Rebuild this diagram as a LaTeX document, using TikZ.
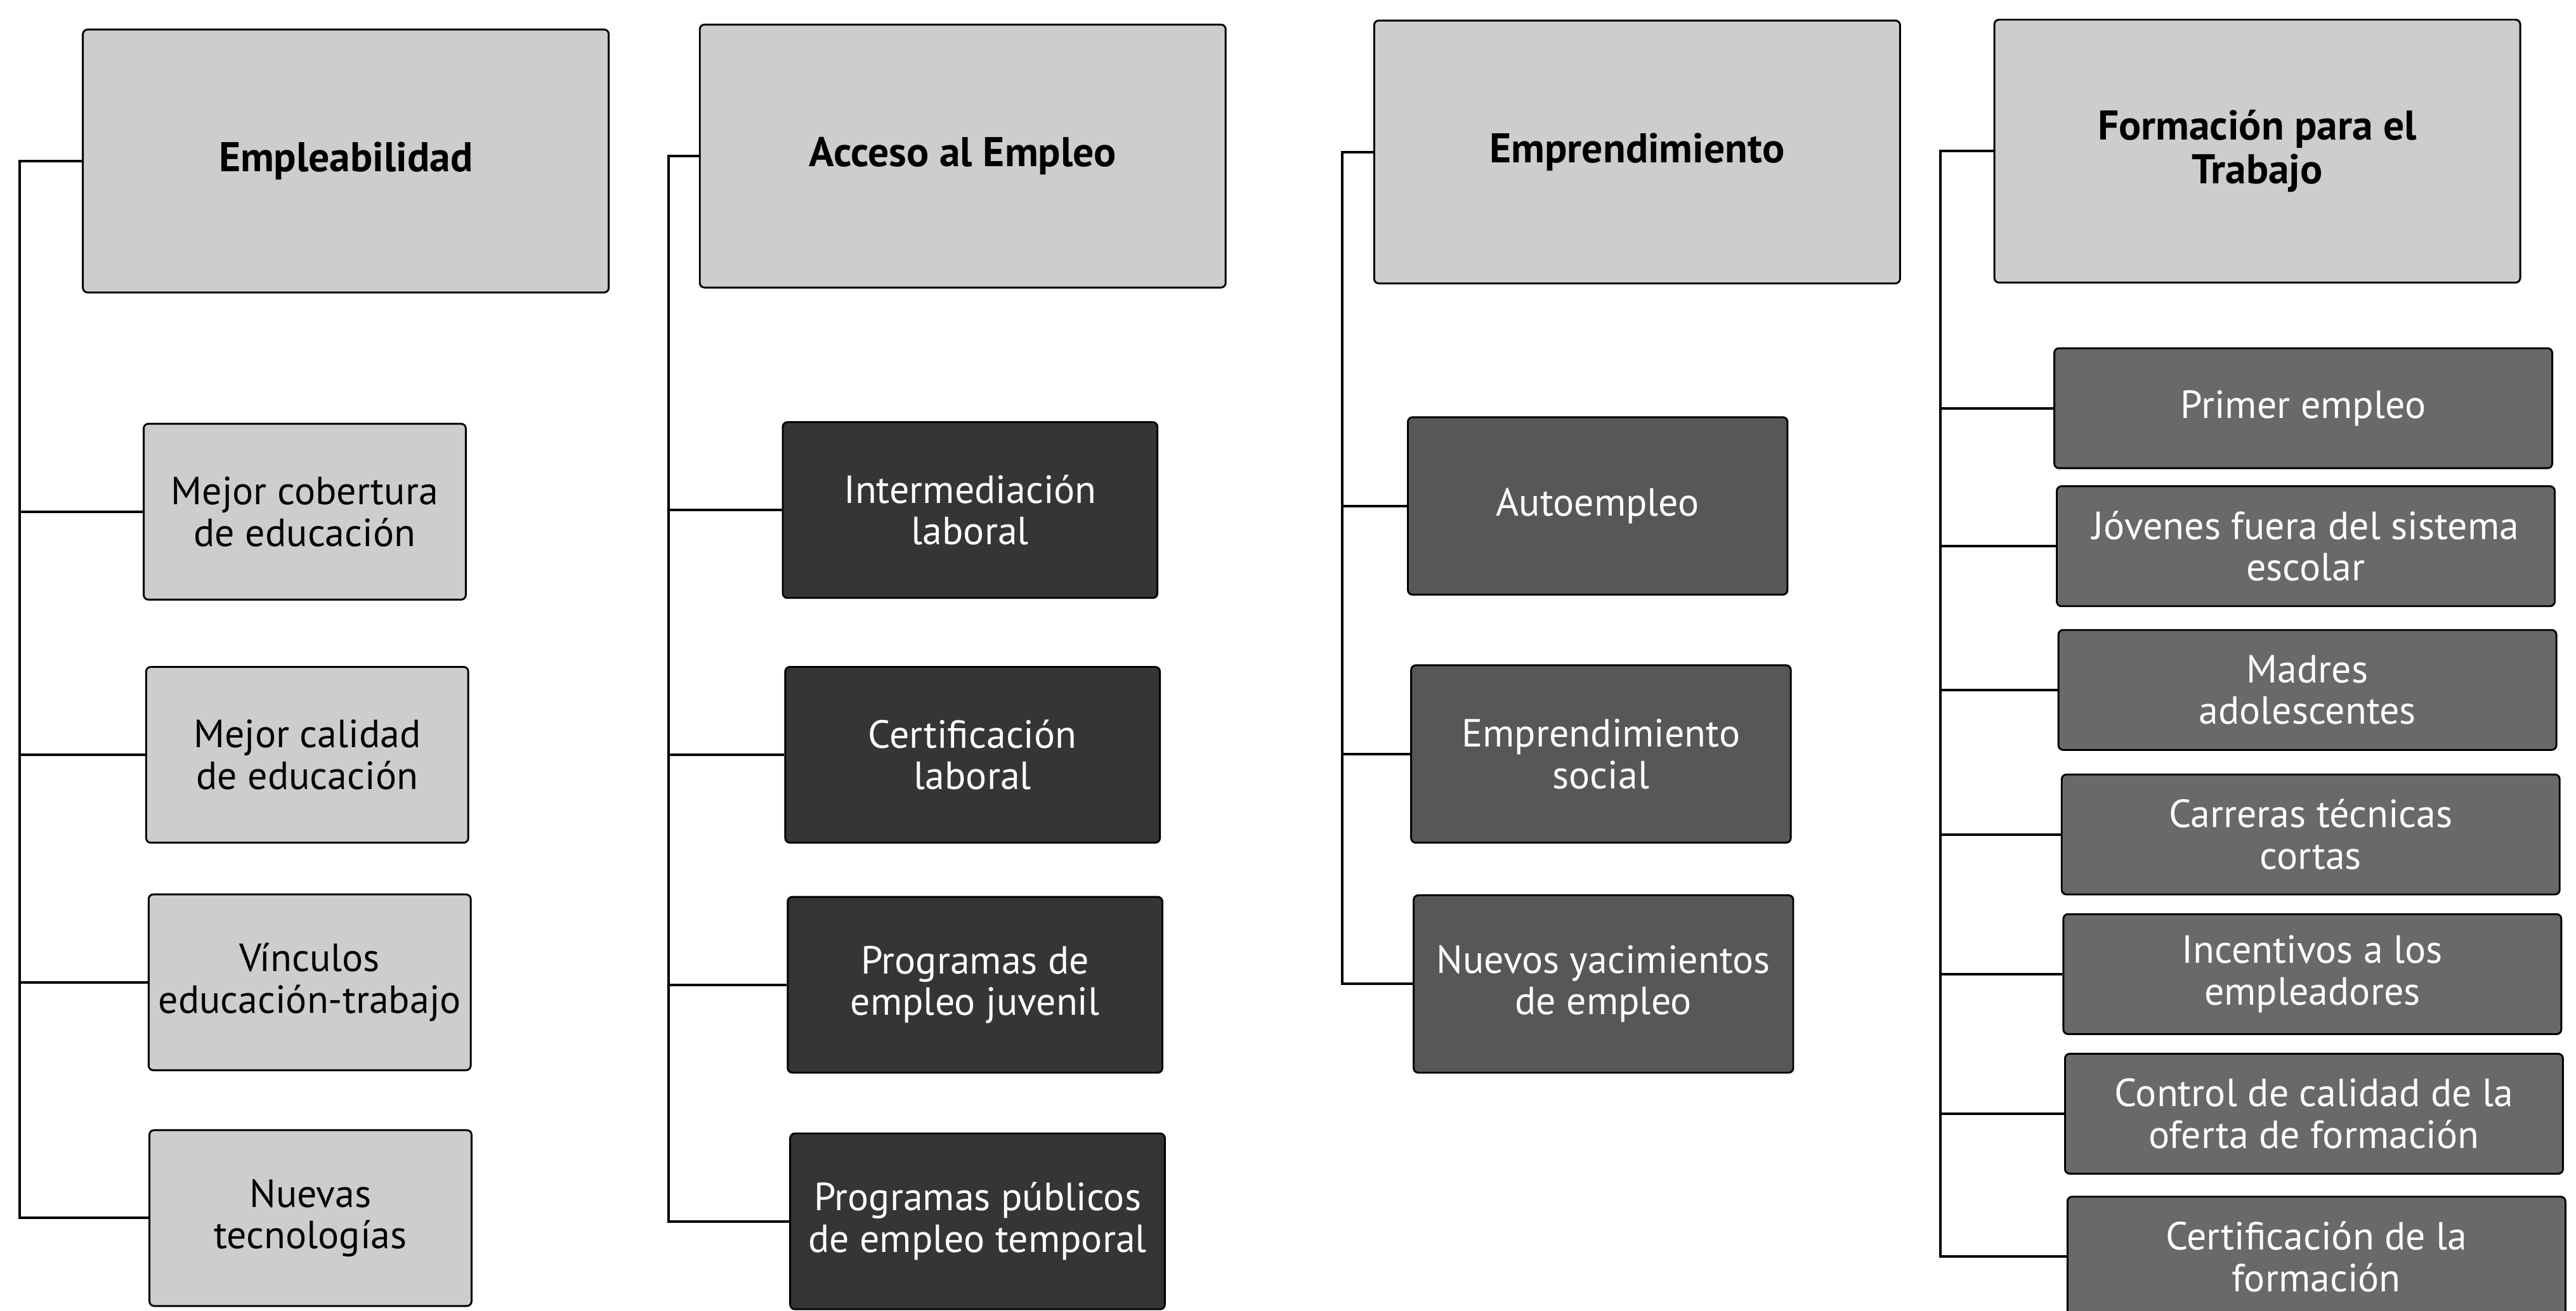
\documentclass[tikz,border=0pt]{standalone}
\usepackage{fontspec}
\setmainfont{PT Sans}
\usepackage{xcolor}
\usepackage{tikz}
\usetikzlibrary{calc, positioning}

\definecolor{lightbox}{HTML}{CDCDCD}
\definecolor{darkbox}{HTML}{353535}
\definecolor{midbox}{HTML}{575757}
\definecolor{greybox}{HTML}{696969}

\begin{document}
\begin{tikzpicture}[x=0.025cm, y=-0.025cm]
		\tikzstyle{head} = [draw=black, line width=0.8pt, rounded corners=2pt, fill=lightbox, minimum width=8cm, minimum height=4cm, align=center, font=\fontsize{18pt}{19pt}\selectfont\bfseries]
		\tikzstyle{itema} = [draw=black, line width=0.8pt, rounded corners=2pt, fill=lightbox, minimum width=4.9cm, minimum height=2.675cm, align=center, font=\fontsize{17pt}{18pt}\selectfont]
		\tikzstyle{itemb} = [itema, fill=darkbox, text=white, minimum width=5.7cm]
		\tikzstyle{itemc} = [itema, fill=midbox, text=white, minimum width=5.775cm, minimum height=2.7cm]
		\tikzstyle{itemd} = [itema, fill=greybox, text=white, minimum width=7.575cm, minimum height=1.825cm]
		\tikzstyle{line} = [line width=1.1pt]
		
		\useasboundingbox (0,0) rectangle (1568,798);
		
		\node[head]		at (210.5, 98)		(h1)	{Empleabilidad};
		\node[head]		at (586, 95)		(h2)	{Acceso al Empleo};
		\node[head]		at (996.5, 92.5)	(h3)	{Emprendimiento};
		\node[head]		at (1374, 92)		(h4)	{Formación para el\\Trabajo};
		
		\node[itema]	at (185.5, 311.5)	(c11)	{Mejor cobertura\\de educación};
		\node[itema]	at (187, 459.5)		(c12)	{Mejor calidad\\de educación};
		\node[itema]	at (188.5, 598)		(c13)	{Vínculos\\educación-trabajo};
		\node[itema]	at (189, 741.5)		(c14)	{Nuevas\\tecnologías};
		
		\node[itemb]	at (590.5, 310.5)	(c21)	{Intermediación\\laboral};
		\node[itemb]	at (592, 459.5)		(c22)	{Certificación\\laboral};
		\node[itemb]	at (593.5, 599.5)	(c23)	{Programas de\\empleo juvenil};
		\node[itemb]	at (595, 743.5)		(c24)	{Programas públicos\\de empleo temporal};
		
		\node[itemc]	at (972.5, 308)		(c31)	{Autoempleo};
		\node[itemc]	at (974.5, 459)		(c32)	{Emprendimiento\\social};
		\node[itemc]	at (976, 599)		(c33)	{Nuevos yacimientos\\de empleo};
		
		\node[itemd]	at (1402, 248.5)	(c41)	{Primer empleo};
		\node[itemd]	at (1403.5, 332.5)	(c42)	{Jóvenes fuera del sistema\\escolar};
		\node[itemd]	at (1404.5, 420)	(c43)	{Madres\\adolescentes};
		\node[itemd]	at (1406.5, 508)	(c44)	{Carreras técnicas\\cortas};
		\node[itemd]	at (1407.5, 593)	(c45)	{Incentivos a los\\empleadores};
		\node[itemd]	at (1408.5, 678)	(c46)	{Control de calidad de la\\oferta de formación};
		\node[itemd]	at (1410, 765)		(c47)	{Certificación de la\\formación};
		
		\coordinate (t1) at (12, 98);
		\coordinate (t2) at (407, 95);
		\coordinate (t3) at (817, 92.5);
		\coordinate (t4) at (1181, 92);
		
		\draw [line] (h1.west) -- (t1) |- (c14.west);
		\draw [line] (t1 |- c11.west) -- (c11.west);
		\draw [line] (t1 |- c12.west) -- (c12.west);
		\draw [line] (t1 |- c13.west) -- (c13.west);
		
		\draw [line] (h2.west) -- (t2) |- (c24.west);
		\draw [line] (t2 |- c21.west) -- (c21.west);
		\draw [line] (t2 |- c22.west) -- (c22.west);
		\draw [line] (t2 |- c23.west) -- (c23.west);
		
		\draw [line] (h3.west) -- (t3) |- (c33.west);
		\draw [line] (t3 |- c31.west) -- (c31.west);
		\draw [line] (t3 |- c32.west) -- (c32.west);
		
		\draw [line] (h4.west) -- (t4) |- (c47.west);
		\draw [line] (t4 |- c41.west) -- (c41.west);
		\draw [line] (t4 |- c42.west) -- (c42.west);
		\draw [line] (t4 |- c43.west) -- (c43.west);
		\draw [line] (t4 |- c44.west) -- (c44.west);
		\draw [line] (t4 |- c45.west) -- (c45.west);
		\draw [line] (t4 |- c46.west) -- (c46.west);
		
	\end{tikzpicture}
\end{document}
